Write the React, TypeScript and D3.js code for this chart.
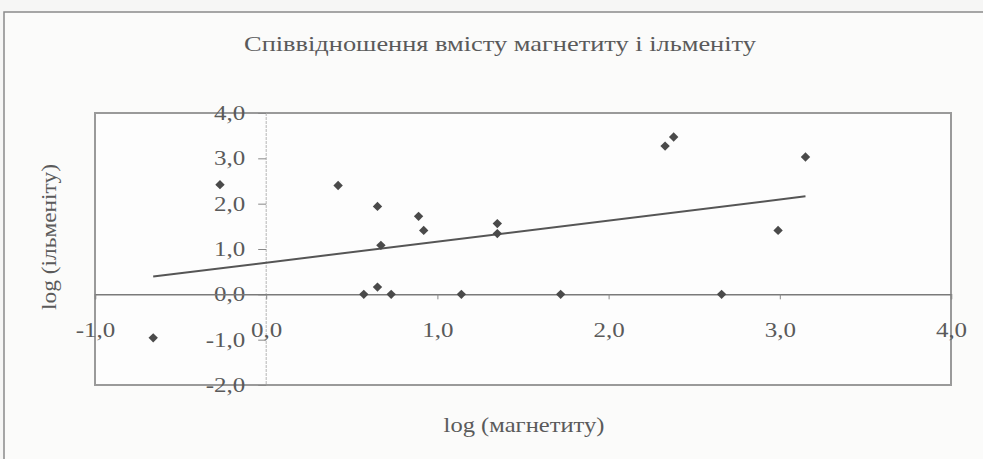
import React, { useEffect, useRef } from 'react';
import * as d3 from 'd3';

// log (магнетиту) / log (ільменіту)
const magnetite = [-0.66, -0.27, 0.42, 0.65, 0.67, 0.57, 0.65, 0.73, 0.89, 0.92, 1.35, 1.35, 1.14, 1.72, 2.33, 2.38, 2.66, 2.99, 3.15];
const ilmenite = [-0.96, 2.42, 2.40, 1.94, 1.08, 0.0, 0.16, 0.0, 1.72, 1.41, 1.56, 1.34, 0.0, 0.0, 3.27, 3.47, 0.0, 1.41, 3.03];

const xTicks = [-1, 0, 1, 2, 3, 4];
const yTicks = [-2, -1, 0, 1, 2, 3, 4];

const title = 'Співвідношення вмісту магнетиту і ільменіту';
const xTitle = 'log (магнетиту)';
const yTitle = 'log (ільменіту)';

function ScatterChart() {
  const chartRef = useRef<SVGSVGElement>(null);

  useEffect(() => {
    const svg = d3.select(chartRef.current);
    svg.selectAll('*').remove();

    const width = 983, height = 459;
    const plot = { left: 95, right: 951, top: 113, bottom: 385 };
    const font = '"Liberation Serif", "DejaVu Serif", serif';
    const textColor = '#5a5a5a';
    const fmt = (d: number) => d.toFixed(1).replace('.', ',');

    const points = magnetite.map((m, i) => ({ x: m, y: ilmenite[i] }));

    const x = d3.scaleLinear().domain([-1, 4]).range([plot.left, plot.right]);
    const y = d3.scaleLinear().domain([-2, 4]).range([plot.bottom, plot.top]);

    // page background and outer chart frame
    svg.append('rect').attr('width', width).attr('height', height).attr('fill', '#f6f6f5');
    svg.append('rect')
      .attr('x', 4).attr('y', 12)
      .attr('width', width).attr('height', height)
      .attr('fill', '#fbfbfa')
      .attr('stroke', '#8a8a8a')
      .attr('stroke-width', 1.5);

    // plot area
    svg.append('rect')
      .attr('x', plot.left).attr('y', plot.top)
      .attr('width', plot.right - plot.left).attr('height', plot.bottom - plot.top)
      .attr('fill', '#fdfdfd')
      .attr('stroke', '#9a9a9a')
      .attr('stroke-width', 2);

    // y axis sits at x = 0, x axis at y = 0
    svg.append('line')
      .attr('x1', x(0)).attr('x2', x(0))
      .attr('y1', plot.top).attr('y2', plot.bottom)
      .attr('stroke', '#b5b5b5').attr('stroke-width', 1)
      .attr('stroke-dasharray', '3,1');

    // the scan is stretched sideways, so the text is widened a little
    const yAxis = svg.append('g')
      .attr('transform', `translate(${x(0)},0)`)
      .call(d3.axisLeft(y).tickValues(yTicks).tickFormat(fmt).tickSize(8));
    yAxis.select('.domain').remove();
    yAxis.selectAll('.tick line').attr('stroke', '#888');
    yAxis.selectAll('.tick text')
      .attr('x', null)
      .attr('transform', 'translate(-21,0) scale(1.25,1)')
      .attr('font-family', font).attr('font-size', 20).attr('fill', textColor);

    const xAxis = svg.append('g')
      .attr('transform', `translate(0,${y(0)})`)
      .call(d3.axisBottom(x).tickValues(xTicks).tickFormat(fmt).tickSize(5).tickPadding(23));
    xAxis.select('.domain').attr('stroke', '#7a7a7a').attr('stroke-width', 1.5);
    xAxis.selectAll('.tick line').attr('stroke', '#888');
    xAxis.selectAll('.tick text')
      .attr('transform', 'scale(1.25,1)')
      .attr('font-family', font).attr('font-size', 20).attr('fill', textColor);

    // linear trend (least squares)
    const mx = d3.mean(points, d => d.x)!;
    const my = d3.mean(points, d => d.y)!;
    const slope = d3.sum(points, d => (d.x - mx) * (d.y - my)) / d3.sum(points, d => (d.x - mx) ** 2);
    const intercept = my - slope * mx;
    const [x0, x1] = d3.extent(points, d => d.x) as [number, number];

    const line = d3.line<number>()
      .x(d => x(d))
      .y(d => y(intercept + slope * d));

    svg.append('path')
      .datum([x0, x1])
      .attr('fill', 'none')
      .attr('stroke', '#555')
      .attr('stroke-width', 2)
      .attr('d', line);

    // diamond markers
    const diamond = d3.symbol().type(d3.symbolSquare).size(44);
    svg.append('g')
      .selectAll('path')
      .data(points)
      .join('path')
      .attr('d', diamond)
      .attr('transform', d => `translate(${x(d.x)},${y(d.y)}) rotate(45)`)
      .attr('fill', '#4a4a4a');

    // titles
    svg.append('text')
      .attr('transform', 'translate(500,51) scale(1.2,1)')
      .attr('text-anchor', 'middle')
      .attr('font-family', font).attr('font-size', 22).attr('fill', textColor)
      .text(title);

    svg.append('text')
      .attr('transform', 'translate(524,432) scale(1.17,1)')
      .attr('text-anchor', 'middle')
      .attr('font-family', font).attr('font-size', 21).attr('fill', textColor)
      .text(xTitle);

    svg.append('text')
      .attr('transform', `translate(56,237) rotate(-90) scale(1.17,1)`)
      .attr('text-anchor', 'middle')
      .attr('font-family', font).attr('font-size', 20).attr('fill', textColor)
      .text(yTitle);
  }, []);

  return <svg ref={chartRef} width="983" height="459" style={{ position: 'absolute', left: 0, top: 0 }}></svg>;
}

export default function App() {
  return <ScatterChart />;
}
